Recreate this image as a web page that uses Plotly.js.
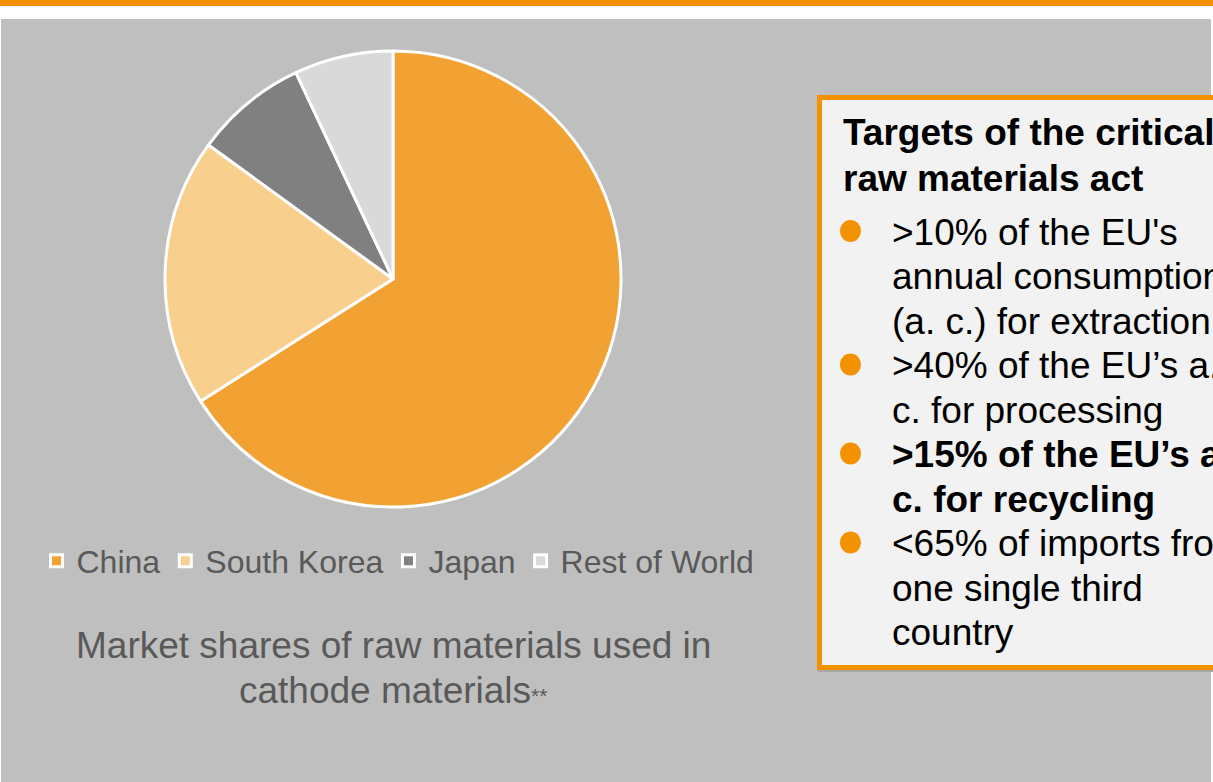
<!DOCTYPE html>
<html>
<head>
<meta charset="utf-8">
<script src="https://cdn.plot.ly/plotly-3.0.1.min.js"></script>
<style>html,body{margin:0;padding:0;background:#fff;}#chart{width:1213px;height:782px;}</style>
</head>
<body>
<div id="chart"></div>
<script>
// ---- data ----
var countries = ["China", "South Korea", "Japan", "Rest of World"];
var shares = [66, 19, 8, 7];
var sliceColors = ["#f2a233", "#f9cf8e", "#808080", "#d9d9d9"];

var captionLines = ["Market shares of raw materials used in", "cathode materials"];
var boxTitleLines = ["Targets of the critical", "raw materials act"];
var bulletLines = [
  {t: ">10% of the EU's", bullet: true, bold: false},
  {t: "annual consumption", bullet: false, bold: false},
  {t: "(a. c.) for extraction", bullet: false, bold: false},
  {t: ">40% of the EU’s a.", bullet: true, bold: false},
  {t: "c. for processing", bullet: false, bold: false},
  {t: ">15% of the EU’s a.", bullet: true, bold: true},
  {t: "c. for recycling", bullet: false, bold: true},
  {t: "<65% of imports from", bullet: true, bold: false},
  {t: "one single third", bullet: false, bold: false},
  {t: "country", bullet: false, bold: false}
];

// ---- helpers (pixel -> paper) ----
var W = 1213, H = 782;
function px(x){ return x / W; }
function py(y){ return 1 - y / H; }
var FONT = "Liberation Sans, Arial, sans-serif";

var shapes = [
  {type:"rect", xref:"paper", yref:"paper", x0:px(0), x1:px(1213), y0:py(0), y1:py(6), fillcolor:"#f39200", line:{width:0}, layer:"below"},
  {type:"rect", xref:"paper", yref:"paper", x0:px(1), x1:px(1211), y0:py(19), y1:py(782), fillcolor:"#bfbfbf", line:{width:0}, layer:"below"},
  {type:"rect", xref:"paper", yref:"paper", x0:px(818), x1:px(1240), y0:py(98), y1:py(672), fillcolor:"#a6a6a6", line:{width:0}, layer:"below"},
  {type:"rect", xref:"paper", yref:"paper", x0:px(819.5), x1:px(1240), y0:py(97.5), y1:py(667.5), fillcolor:"#f2f2f2", line:{color:"#f39200", width:5}, layer:"below"}
];

var annotations = [];
// caption
annotations.push({xref:"paper", yref:"paper", x:px(393), y:py(645), xanchor:"center", yanchor:"middle", showarrow:false,
  text: captionLines[0], font:{family:FONT, size:37, color:"#595959"}});
annotations.push({xref:"paper", yref:"paper", x:px(393), y:py(690), xanchor:"center", yanchor:"middle", showarrow:false,
  text: captionLines[1] + "<span style='font-size:21px'>**</span>", font:{family:FONT, size:37, color:"#595959"}});
// box title
boxTitleLines.forEach(function(t, i){
  annotations.push({xref:"paper", yref:"paper", x:px(841), y:py(132 + i*46), xanchor:"left", yanchor:"middle", showarrow:false,
    text: "<b>" + t + "</b>", font:{family:FONT, size:37, color:"#000000"}});
});
// bullet lines
var lineY0 = 232, lineStep = 44.5;
bulletLines.forEach(function(l, i){
  var y = lineY0 + i*lineStep;
  annotations.push({xref:"paper", yref:"paper", x:px(890), y:py(y), xanchor:"left", yanchor:"middle", showarrow:false,
    text: l.bold ? "<b>" + l.t + "</b>" : l.t, font:{family:FONT, size:37, color:"#000000"}});
  if (l.bullet) {
    shapes.push({type:"circle", xref:"paper", yref:"paper", x0:px(840), x1:px(861), y0:py(y-12), y1:py(y+10),
      fillcolor:"#f39200", line:{width:0}, layer:"above"});
  }
});

var data = [{
  type: "pie",
  labels: countries,
  values: shares,
  sort: false,
  direction: "clockwise",
  rotation: 0,
  marker: {colors: sliceColors, line: {color: "#ffffff", width: 3}},
  textinfo: "none",
  hoverinfo: "label+percent",
  domain: {x: [px(165), px(621)], y: [py(507), py(51)]}
}];

var layout = {
  width: W, height: H,
  margin: {l:0, r:0, t:0, b:0},
  paper_bgcolor: "#ffffff",
  showlegend: true,
  legend: {orientation:"h", x:px(398), y:py(561), xanchor:"center", yanchor:"middle",
    bgcolor:"rgba(0,0,0,0)", font:{family:FONT, size:32, color:"#595959"}, itemclick:false, itemdoubleclick:false},
  shapes: shapes,
  annotations: annotations
};

Plotly.newPlot("chart", data, layout, {displayModeBar:false, staticPlot:true});
</script>
</body>
</html>
